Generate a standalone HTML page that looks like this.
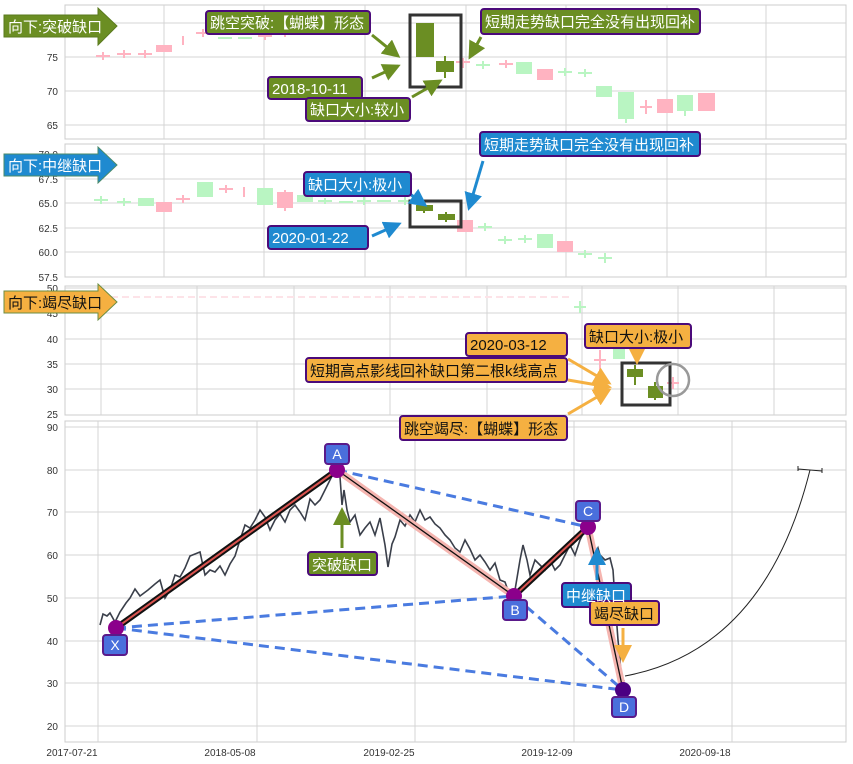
<!DOCTYPE html>
<html><head><meta charset="utf-8"><style>
body{margin:0;background:#fff;}
svg{display:block;font-family:"Liberation Sans","Noto Sans CJK SC",sans-serif;}
.g line.gl{stroke:#d0d0d0;stroke-width:1}
.tk{font-size:10px;fill:#333;text-anchor:end}
.lb{font-size:15px;}
</style></head><body>
<svg width="853" height="764" viewBox="0 0 853 764" xmlns="http://www.w3.org/2000/svg">
<defs>
<marker id="ag" markerWidth="6" markerHeight="6" refX="5" refY="3" orient="auto" markerUnits="strokeWidth"><path d="M0,0L6,3L0,6z" fill="#6b8e23"/></marker>
<marker id="ab" markerWidth="6" markerHeight="6" refX="5" refY="3" orient="auto" markerUnits="strokeWidth"><path d="M0,0L6,3L0,6z" fill="#1f8ad0"/></marker>
<marker id="ao" markerWidth="6" markerHeight="6" refX="5" refY="3" orient="auto" markerUnits="strokeWidth"><path d="M0,0L6,3L0,6z" fill="#f5b041"/></marker>
</defs>
<!-- Panel 1 -->
<g stroke="#d4d4d4" stroke-width="1" fill="none">
<rect x="65" y="5" width="781" height="134" stroke="#ccc"/>
<line x1="65" y1="57" x2="846" y2="57"/><line x1="65" y1="91" x2="846" y2="91"/><line x1="65" y1="125" x2="846" y2="125"/><line x1="65" y1="23" x2="846" y2="23"/>
<line x1="164" y1="5" x2="164" y2="139"/><line x1="264" y1="5" x2="264" y2="139"/><line x1="365" y1="5" x2="365" y2="139"/><line x1="466" y1="5" x2="466" y2="139"/><line x1="566" y1="5" x2="566" y2="139"/><line x1="667" y1="5" x2="667" y2="139"/><line x1="766" y1="5" x2="766" y2="139"/>
</g>
<text class="tk" x="58" y="61">75</text><text class="tk" x="58" y="95">70</text><text class="tk" x="58" y="129">65</text>
<g stroke="#ffb3c1" fill="#ffb3c1" stroke-width="2">
<path d="M96,56h14M103,52v8M117,54h14M124,50v8M138,54h14M145,50v8M183,36v9M196,33h14M203,29v8M258,36h14M265,32v8M278,33h14M285,29v8M456,62h14M463,58v10M499,64h14M506,60v8M640,107h12M646,100v14"/>
<rect x="157" y="46" width="14" height="5"/><rect x="538" y="70" width="14" height="9"/><rect x="658" y="100" width="14" height="12"/><rect x="699" y="94" width="15" height="16"/>
</g>
<g stroke="#b9f5c2" fill="#b9f5c2" stroke-width="2">
<path d="M218,38h14M238,38h14M476,65h14M483,61v8M558,72h14M565,68v8M578,73h14M585,69v8M605,87v10M626,93v30M685,96v20"/>
<rect x="517" y="63" width="14" height="10"/><rect x="597" y="87" width="14" height="9"/><rect x="619" y="93" width="14" height="25"/><rect x="678" y="96" width="14" height="14"/>
</g>
<rect x="410" y="15" width="51" height="72" fill="none" stroke="#333" stroke-width="3"/>
<g fill="#6b8e23" stroke="#6b8e23" stroke-width="2"><rect x="417" y="24" width="16" height="32"/><rect x="437" y="62" width="16" height="9"/><path d="M445,56v22" fill="none"/></g>
<!-- Panel 2 -->
<g stroke="#d4d4d4" stroke-width="1" fill="none">
<rect x="65" y="144" width="781" height="133" stroke="#ccc"/>
<line x1="65" y1="154" x2="846" y2="154"/><line x1="65" y1="179" x2="846" y2="179"/><line x1="65" y1="203" x2="846" y2="203"/><line x1="65" y1="228" x2="846" y2="228"/><line x1="65" y1="252" x2="846" y2="252"/>
<line x1="164" y1="144" x2="164" y2="277"/><line x1="264" y1="144" x2="264" y2="277"/><line x1="365" y1="144" x2="365" y2="277"/><line x1="466" y1="144" x2="466" y2="277"/><line x1="566" y1="144" x2="566" y2="277"/><line x1="667" y1="144" x2="667" y2="277"/><line x1="766" y1="144" x2="766" y2="277"/>
</g>
<text class="tk" x="58" y="158">70.0</text><text class="tk" x="58" y="183">67.5</text><text class="tk" x="58" y="207">65.0</text><text class="tk" x="58" y="232">62.5</text><text class="tk" x="58" y="256">60.0</text><text class="tk" x="58" y="281">57.5</text>
<g stroke="#b9f5c2" fill="#b9f5c2" stroke-width="2">
<path d="M94,200h14M101,196v8M117,202h14M124,198v8M318,201h14M325,198v6M339,202h14M357,201h14M364,197v8M377,201h14M398,201h14M405,197v8M478,227h14M485,223v8M498,240h14M505,236v8M518,239h14M525,235v8M578,254h14M585,250v8M598,258h14M605,253v10"/>
<rect x="139" y="199" width="14" height="6"/><rect x="198" y="183" width="14" height="13"/><rect x="258" y="189" width="14" height="15"/><rect x="298" y="196" width="14" height="5"/><rect x="538" y="235" width="14" height="12"/>
</g>
<g stroke="#ffb3c1" fill="#ffb3c1" stroke-width="2">
<path d="M176,199h14M183,195v8M219,189h14M226,185v8M244,187v10M285,190v21"/>
<rect x="157" y="203" width="14" height="8"/><rect x="278" y="193" width="14" height="14"/><rect x="458" y="221" width="14" height="10"/><rect x="558" y="242" width="14" height="9"/>
</g>
<rect x="410" y="201" width="51" height="26" fill="none" stroke="#333" stroke-width="3"/>
<g fill="#6b8e23" stroke="#6b8e23" stroke-width="2"><rect x="417" y="206" width="15" height="4"/><rect x="439" y="215" width="15" height="4"/><path d="M424,203v10M446,212v10" fill="none"/></g>
<!-- Panel 3 -->
<g stroke="#d4d4d4" stroke-width="1" fill="none">
<rect x="65" y="286" width="781" height="129" stroke="#ccc"/>
<line x1="65" y1="288" x2="846" y2="288"/><line x1="65" y1="313" x2="846" y2="313"/><line x1="65" y1="339" x2="846" y2="339"/><line x1="65" y1="364" x2="846" y2="364"/><line x1="65" y1="389" x2="846" y2="389"/>
<line x1="101" y1="286" x2="101" y2="415"/><line x1="197" y1="286" x2="197" y2="415"/><line x1="294" y1="286" x2="294" y2="415"/><line x1="390" y1="286" x2="390" y2="415"/><line x1="487" y1="286" x2="487" y2="415"/><line x1="582" y1="286" x2="582" y2="415"/><line x1="678" y1="286" x2="678" y2="415"/><line x1="774" y1="286" x2="774" y2="415"/>
</g>
<text class="tk" x="58" y="292">50</text><text class="tk" x="58" y="317">45</text><text class="tk" x="58" y="343">40</text><text class="tk" x="58" y="368">35</text><text class="tk" x="58" y="393">30</text><text class="tk" x="58" y="418">25</text>
<line x1="100" y1="297" x2="572" y2="297" stroke="#fde3e8" stroke-width="2" stroke-dasharray="7,4"/>
<path d="M574,307h12M580,301v12" stroke="#b9f5c2" stroke-width="2"/>
<path d="M594,360h12M600,350v20" stroke="#ffb3c1" stroke-width="2"/>
<rect x="613" y="349" width="12" height="10" fill="#b9f5c2"/>
<path d="M667,383h12M673,377v12" stroke="#ffb3c1" stroke-width="2"/>
<rect x="622" y="363" width="48" height="42" fill="none" stroke="#333" stroke-width="3"/>
<g fill="#6b8e23" stroke="#6b8e23" stroke-width="2"><rect x="628" y="370" width="14" height="6"/><rect x="649" y="387" width="13" height="10"/><path d="M635,365v20M655,382v18" fill="none"/></g>
<circle cx="673" cy="380" r="16" fill="none" stroke="#999" stroke-width="2.5"/>
<!-- Panel 4 -->
<g stroke="#d4d4d4" stroke-width="1" fill="none">
<rect x="65" y="421" width="781" height="321" stroke="#ccc"/>
<line x1="65" y1="427" x2="846" y2="427"/><line x1="65" y1="470" x2="846" y2="470"/><line x1="65" y1="512" x2="846" y2="512"/><line x1="65" y1="555" x2="846" y2="555"/><line x1="65" y1="598" x2="846" y2="598"/><line x1="65" y1="641" x2="846" y2="641"/><line x1="65" y1="683" x2="846" y2="683"/><line x1="65" y1="726" x2="846" y2="726"/>
<line x1="98" y1="421" x2="98" y2="742"/><line x1="257" y1="421" x2="257" y2="742"/><line x1="415" y1="421" x2="415" y2="742"/><line x1="574" y1="421" x2="574" y2="742"/><line x1="732" y1="421" x2="732" y2="742"/>
</g>
<text class="tk" x="58" y="431">90</text><text class="tk" x="58" y="474">80</text><text class="tk" x="58" y="516">70</text><text class="tk" x="58" y="559">60</text><text class="tk" x="58" y="602">50</text><text class="tk" x="58" y="645">40</text><text class="tk" x="58" y="687">30</text><text class="tk" x="58" y="730">20</text>
<g font-size="10" fill="#333" text-anchor="middle"><text x="72" y="756">2017-07-21</text><text x="230" y="756">2018-05-08</text><text x="389" y="756">2019-02-25</text><text x="547" y="756">2019-12-09</text><text x="705" y="756">2020-09-18</text></g>
<polyline fill="none" stroke="#3a3f4a" stroke-width="1.6" points="100,625 103,614 107,616 110,613 115,622 120,612 126,603 130,598 135,589 140,596 148,590 155,584 160,580 165,598 170,590 175,575 180,577 185,568 190,556 195,554 200,552 205,575 210,570 215,572 220,566 225,575 230,564 235,556 240,540 245,525 250,528 255,520 260,510 265,517 270,530 275,520 280,514 285,522 290,510 295,505 300,512 305,520 310,499 315,505 320,500 325,490 330,480 335,470 338,462 340,477 342,505 344,490 347,510 350,522 355,515 360,535 365,528 370,522 375,535 380,518 385,545 388,567 392,544 395,537 400,520 405,526 410,515 415,522 420,510 425,520 430,517 435,524 440,528 445,535 450,540 455,548 460,552 465,540 470,549 475,560 480,555 485,562 490,570 495,563 500,580 505,582 510,596 515,590 520,560 523,545 527,560 530,575 535,560 540,565 545,570 550,560 555,570 560,565 565,555 570,545 575,555 580,540 585,530 590,528 595,555 598,548 600,555 605,560 610,558 613,570 615,600 618,640 620,660 622,690 624,680"/>
<g stroke="#4a7be0" stroke-width="3" stroke-dasharray="10,6" fill="none">
<line x1="116" y1="628" x2="514" y2="596"/><line x1="116" y1="628" x2="623" y2="690"/><line x1="337" y1="470" x2="588" y2="527"/><line x1="514" y1="596" x2="623" y2="690"/>
</g>
<g fill="none" stroke-linecap="round">
<line x1="337" y1="470" x2="514" y2="596" stroke="#f5b5b0" stroke-width="7"/><line x1="337" y1="470" x2="514" y2="596" stroke="#111" stroke-width="1.3"/>
<line x1="588" y1="527" x2="623" y2="690" stroke="#f5b5b0" stroke-width="7"/><line x1="588" y1="527" x2="623" y2="690" stroke="#111" stroke-width="1.3"/>
<line x1="116" y1="628" x2="337" y2="470" stroke="#111" stroke-width="6"/><line x1="116" y1="628" x2="337" y2="470" stroke="#d9534f" stroke-width="2"/>
<line x1="514" y1="596" x2="588" y2="527" stroke="#111" stroke-width="6"/><line x1="514" y1="596" x2="588" y2="527" stroke="#d9534f" stroke-width="2"/>
</g>
<g fill="#8b008b"><circle cx="116" cy="628" r="8"/><circle cx="337" cy="470" r="8"/><circle cx="514" cy="596" r="8"/><circle cx="588" cy="527" r="8"/><circle cx="623" cy="690" r="8" fill="#4b0082"/></g>
<path d="M625,676 Q765,650 810,470" fill="none" stroke="#222" stroke-width="1"/>
<path d="M798,469 L822,471 M822,468v5 M798,466v5" stroke="#222" stroke-width="1"/>
<g fill="#4a6fdc" stroke="#5a1a8a" stroke-width="2">
<rect x="103" y="635" width="24" height="20" rx="3"/><rect x="325" y="444" width="24" height="20" rx="3"/><rect x="503" y="600" width="24" height="20" rx="3"/><rect x="576" y="501" width="24" height="20" rx="3"/><rect x="612" y="697" width="24" height="20" rx="3"/>
</g>
<g fill="#fff" font-size="14" text-anchor="middle"><text x="115" y="650">X</text><text x="337" y="459">A</text><text x="515" y="615">B</text><text x="588" y="516">C</text><text x="624" y="712">D</text></g>
<!-- arrows in panel 4 -->
<line x1="342" y1="548" x2="342" y2="510" stroke="#6b8e23" stroke-width="3" marker-end="url(#ag)"/>
<line x1="597" y1="580" x2="597" y2="550" stroke="#1f8ad0" stroke-width="3" marker-end="url(#ab)"/>
<line x1="623" y1="628" x2="623" y2="660" stroke="#f5b041" stroke-width="3" marker-end="url(#ao)"/>
<!-- annotation arrows -->
<g stroke="#6b8e23" stroke-width="3" fill="none">
<line x1="372" y1="35" x2="398" y2="56" marker-end="url(#ag)"/><line x1="372" y1="78" x2="398" y2="66" marker-end="url(#ag)"/><line x1="412" y1="97" x2="440" y2="81" marker-end="url(#ag)"/><line x1="481" y1="37" x2="470" y2="57" marker-end="url(#ag)"/>
</g>
<g stroke="#1f8ad0" stroke-width="3" fill="none">
<line x1="410" y1="194" x2="425" y2="205" marker-end="url(#ab)"/><line x1="372" y1="236" x2="399" y2="224" marker-end="url(#ab)"/><line x1="483" y1="161" x2="469" y2="208" marker-end="url(#ab)"/>
</g>
<g stroke="#f5b041" stroke-width="3" fill="none">
<line x1="637" y1="349" x2="637" y2="362" marker-end="url(#ao)"/><line x1="568" y1="359" x2="609" y2="383" marker-end="url(#ao)"/><line x1="568" y1="380" x2="609" y2="387" marker-end="url(#ao)"/><line x1="568" y1="414" x2="609" y2="390" marker-end="url(#ao)"/>
</g>
<!-- big left arrows -->
<path d="M4,15 H98 V8 L117,26 L98,45 V37 H4 Z" fill="#6b8e23" stroke="#5a7a1e"/>
<text x="8" y="32" class="lb" fill="#fff">向下:突破缺口</text>
<path d="M4,154 H98 V147 L117,165 L98,183 V176 H4 Z" fill="#1f8ad0" stroke="#4a8a6a"/>
<text x="8" y="171" class="lb" fill="#fff">向下:中继缺口</text>
<path d="M4,291 H98 V284 L117,302 L98,320 V313 H4 Z" fill="#f5b041" stroke="#6b8e43"/>
<text x="8" y="308" class="lb" fill="#111">向下:竭尽缺口</text>
<!-- boxes -->
<g stroke="#4b0a7a" stroke-width="2">
<rect x="206" y="11" width="164" height="23" rx="3" fill="#6b8e23"/>
<rect x="268" y="77" width="94" height="22" rx="3" fill="#6b8e23"/>
<rect x="306" y="98" width="104" height="23" rx="3" fill="#6b8e23"/>
<rect x="481" y="9" width="219" height="25" rx="3" fill="#6b8e23"/>
<rect x="304" y="172" width="107" height="24" rx="3" fill="#1f8ad0"/>
<rect x="268" y="226" width="100" height="23" rx="3" fill="#1f8ad0"/>
<rect x="480" y="132" width="220" height="24" rx="3" fill="#1f8ad0"/>
<rect x="585" y="324" width="106" height="24" rx="3" fill="#f5b041"/>
<rect x="466" y="333" width="101" height="23" rx="3" fill="#f5b041"/>
<rect x="306" y="358" width="261" height="24" rx="3" fill="#f5b041"/>
<rect x="400" y="416" width="167" height="24" rx="3" fill="#f5b041"/>
<rect x="308" y="552" width="69" height="23" rx="3" fill="#6b8e23"/>
<rect x="562" y="583" width="69" height="24" rx="3" fill="#1f8ad0"/>
<rect x="590" y="601" width="69" height="24" rx="3" fill="#f5b041"/>
</g>
<g class="lb" fill="#fff">
<text x="210" y="28">跳空突破:【蝴蝶】形态</text>
<text x="272" y="94">2018-10-11</text>
<text x="310" y="115">缺口大小:较小</text>
<text x="485" y="27">短期走势缺口完全没有出现回补</text>
<text x="308" y="190">缺口大小:极小</text>
<text x="272" y="243">2020-01-22</text>
<text x="484" y="150">短期走势缺口完全没有出现回补</text>
<text x="312" y="570">突破缺口</text>
<text x="566" y="601">中继缺口</text>
</g>
<g class="lb" fill="#111">
<text x="589" y="342">缺口大小:极小</text>
<text x="470" y="350">2020-03-12</text>
<text x="310" y="376">短期高点影线回补缺口第二根k线高点</text>
<text x="404" y="434">跳空竭尽:【蝴蝶】形态</text>
<text x="594" y="619">竭尽缺口</text>
</g>
</svg>
</body></html>
